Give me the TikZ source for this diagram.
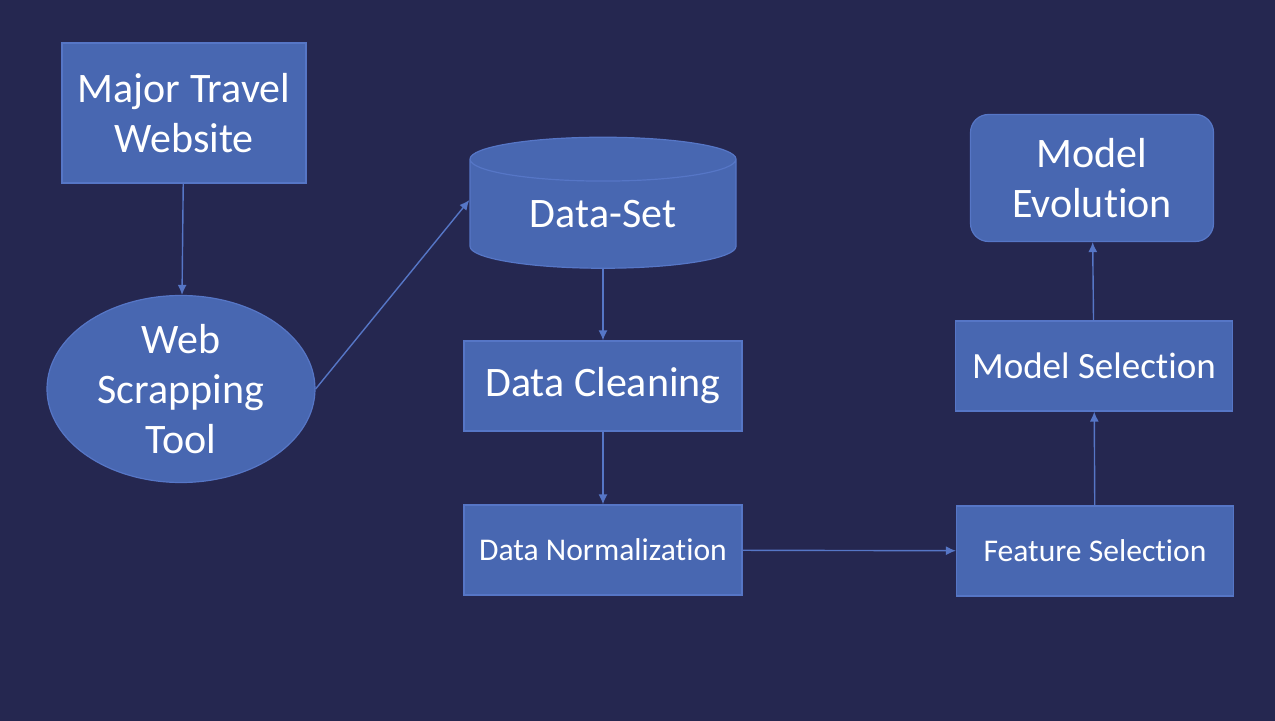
\documentclass[tikz,border=0pt]{standalone}
\usepackage{fontspec}
\setmainfont[Ligatures={NoCommon}]{Carlito}
\usetikzlibrary{positioning, shapes.geometric, arrows.meta}
\definecolor{bgnavy}{RGB}{37,39,80}
\definecolor{boxblue}{RGB}{72,103,177}
\definecolor{edgeblue}{RGB}{86,118,198}
\tikzset{
x=0.5pt, y=-0.5pt, % one unit is one pixel of the layout
block/.style={rectangle, fill=boxblue, draw=edgeblue, line width=0.6pt, text=white, align=center, inner sep=0pt}, % the blue boxes
bigtext/.style={font=\fontsize{21}{25}\selectfont},
midtext/.style={font=\fontsize{18.5}{22}\selectfont},
smalltext/.style={font=\fontsize{15.8}{19}\selectfont},
flow/.style={-{Latex[length=5pt,width=4.5pt]}, draw=edgeblue, line width=0.7pt}, % the connectors
}
\begin{document}
\begin{tikzpicture}
        \fill[bgnavy] (0,0) rectangle (1275,721);
        \useasboundingbox (0,0) rectangle (1275,721);

        \node[block, bigtext, minimum width=122pt, minimum height=70pt] (site) at (184,113) {Major Travel\\Website};
        \node[block, bigtext, ellipse, inner ysep=-5pt, minimum width=134pt, minimum height=93.5pt] (scraper) at (181,389) {Web\\Scrapping\\Tool};
        \node[block, bigtext, cylinder, shape border rotate=90, aspect=0.3, minimum width=133pt, minimum height=65.5pt] (dset) at (603,214) {Data-Set};
        \node[block, bigtext, minimum width=139pt, minimum height=45pt] (clean) at (603,386) {Data Cleaning};
        \node[block, smalltext, minimum width=139pt, minimum height=45pt] (norm) at (603,550) {Data Normalization};
        \node[block, smalltext, minimum width=138.5pt, minimum height=45pt] (feat) at (1095,551) {Feature Selection};
        \node[block, midtext, minimum width=138.5pt, minimum height=45pt] (msel) at (1094,366) {Model Selection};
        \node[block, bigtext, rounded corners=9pt, minimum width=121.5pt, minimum height=63.5pt] (meval) at (1092,178) {Model\\Evolution};

        \draw[flow] (site) -- (scraper);
        \draw[flow] (scraper.east) -- ([yshift=7pt]dset.west);
        \draw[flow] (dset) -- (clean);
        \draw[flow] (clean) -- (norm);
        \draw[flow] (norm) -- (feat);
        \draw[flow] (feat) -- (msel);
        \draw[flow] (msel) -- (meval);
      \end{tikzpicture}
\end{document}
